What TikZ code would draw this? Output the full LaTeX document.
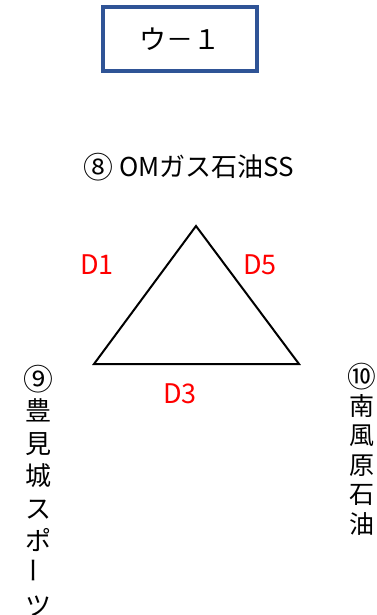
\documentclass[tikz,border=0pt]{standalone}
\usepackage{fontspec}
\usepackage{graphicx}
\setmainfont{Noto Sans CJK JP}
\usetikzlibrary{positioning}
\definecolor{boxblue}{RGB}{47,84,150}
\newcommand{\circnum}[1]{\raisebox{-0.08em}{\scalebox{1.15}{#1}}}

\begin{document}
\begin{tikzpicture}[x=1pt,y=-1pt,
	lbl/.style={font=\fontsize{26}{26}\selectfont, inner sep=0pt},
	dlbl/.style={font=\fontsize{27}{27}\selectfont, text=red, inner sep=0pt},
	vlbl/.style={font=\fontsize{26}{32.5}\selectfont, align=center, inner sep=0pt, anchor=north}]
	\useasboundingbox (0,0) rectangle (376,615);

	\draw node[draw=boxblue, line width=4pt, minimum width=154pt, minimum height=64pt, font=\fontsize{27}{27}\selectfont] (title) at (180,39) {ウ－１};

	\draw node[lbl] (shop8) at (189,167) {\circnum{⑧} OMガス石油SS};

	% triangle
	\coordinate (top) at (196,226);
	\coordinate (left) at (94,364);
	\coordinate (right) at (299,364);
	\draw[line width=2pt, line join=miter] (top) -- (right) -- (left) -- cycle;

	\draw
	node[dlbl] (d1) at (97,265) {D1}
	node[dlbl] (d5) at (260,265) {D5}
	node[dlbl] (d3) at (180,394) {D3};

	\draw node[vlbl] (shop9) at (38,365) {\circnum{⑨}\\豊\\見\\城\\ス\\ポ\\\rotatebox{90}{ー}\\ツ};
	\draw node[vlbl, font=\fontsize{25}{29.5}\selectfont] (shop10) at (362,363) {\circnum{⑩}\\南\\風\\原\\石\\油};
\end{tikzpicture}
\end{document}
